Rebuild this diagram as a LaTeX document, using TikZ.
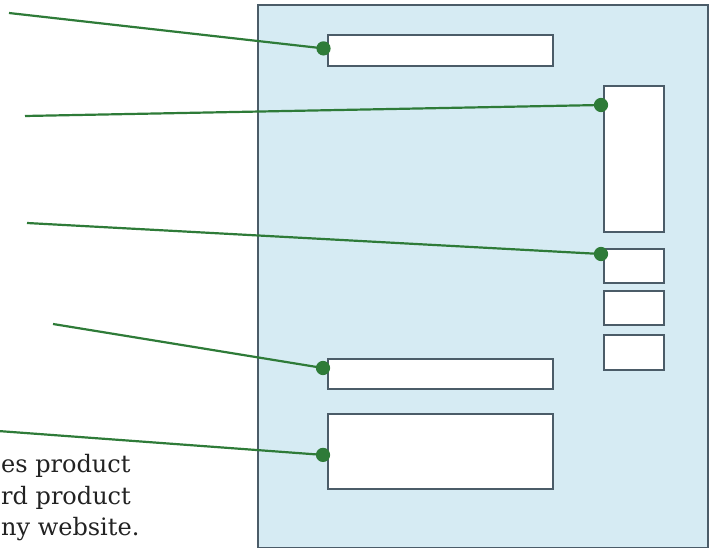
\documentclass[tikz,border=0pt]{standalone}
\usepackage{fontspec}
\setmainfont{DejaVu Serif}
\usetikzlibrary{positioning}
\definecolor{pagefill}{HTML}{D6EBF3}
\definecolor{pageline}{HTML}{4B5C68}
\definecolor{callout}{HTML}{2E7B38}
\definecolor{notetext}{HTML}{222222}

\begin{document}
\begin{tikzpicture}[x=1pt,y=-1pt]
\useasboundingbox (0,0) rectangle (710,548);
			\begin{scope}[every node/.style={rectangle,draw=pageline,line width=1.8pt,fill=white,inner sep=0pt,anchor=north west}]
    \node[fill=pagefill,minimum width=450pt,minimum height=543pt] (page) at (257,4) {};
    \node[minimum width=225pt,minimum height=31pt] (title) at (327,34) {};
    \node[minimum width=60pt,minimum height=146pt] (side) at (603,85) {};
    \node[minimum width=60pt,minimum height=34pt] (btnA) at (603,248) {};
    \node[minimum width=60pt,minimum height=34pt] (btnB) at (603,290) {};
    \node[minimum width=60pt,minimum height=35pt] (btnC) at (603,334) {};
    \node[minimum width=225pt,minimum height=30pt] (search) at (327,358) {};
    \node[minimum width=225pt,minimum height=75pt] (content) at (327,413) {};
			\end{scope}
    % callout ends
    \coordinate (s1) at (9,13);
    \coordinate (s2) at (25,116);
    \coordinate (s3) at (27,223);
    \coordinate (s4) at (53,324);
    \coordinate (s5) at (-2,431);
    \coordinate (d1) at ([shift={(-3.5,-2)}]title.west);
    \coordinate (d2) at ([shift={(-2,20)}]side.north west);
    \coordinate (d3) at ([shift={(-2,6)}]btnA.north west);
    \coordinate (d4) at ([shift={(-4,10)}]search.north west);
    \coordinate (d5) at ([shift={(-4,3.5)}]content.west);
			\begin{scope}[every path/.style={draw=callout,line width=2.2pt}]
    \foreach \i in {1,...,5} {
      \draw (s\i) -- (d\i);
      \fill[callout] (d\i) circle (6);
    }
			\end{scope}
			\begin{scope}[every node/.style={anchor=base west,inner sep=0pt,text=notetext,font=\fontsize{24}{30}\selectfont}]
    \node (noteA) at (1,472) {es product};
    \node (noteB) at (1,504) {rd product};
    \node (noteC) at (1,535) {ny website.};
			\end{scope}
\end{tikzpicture}
\end{document}
